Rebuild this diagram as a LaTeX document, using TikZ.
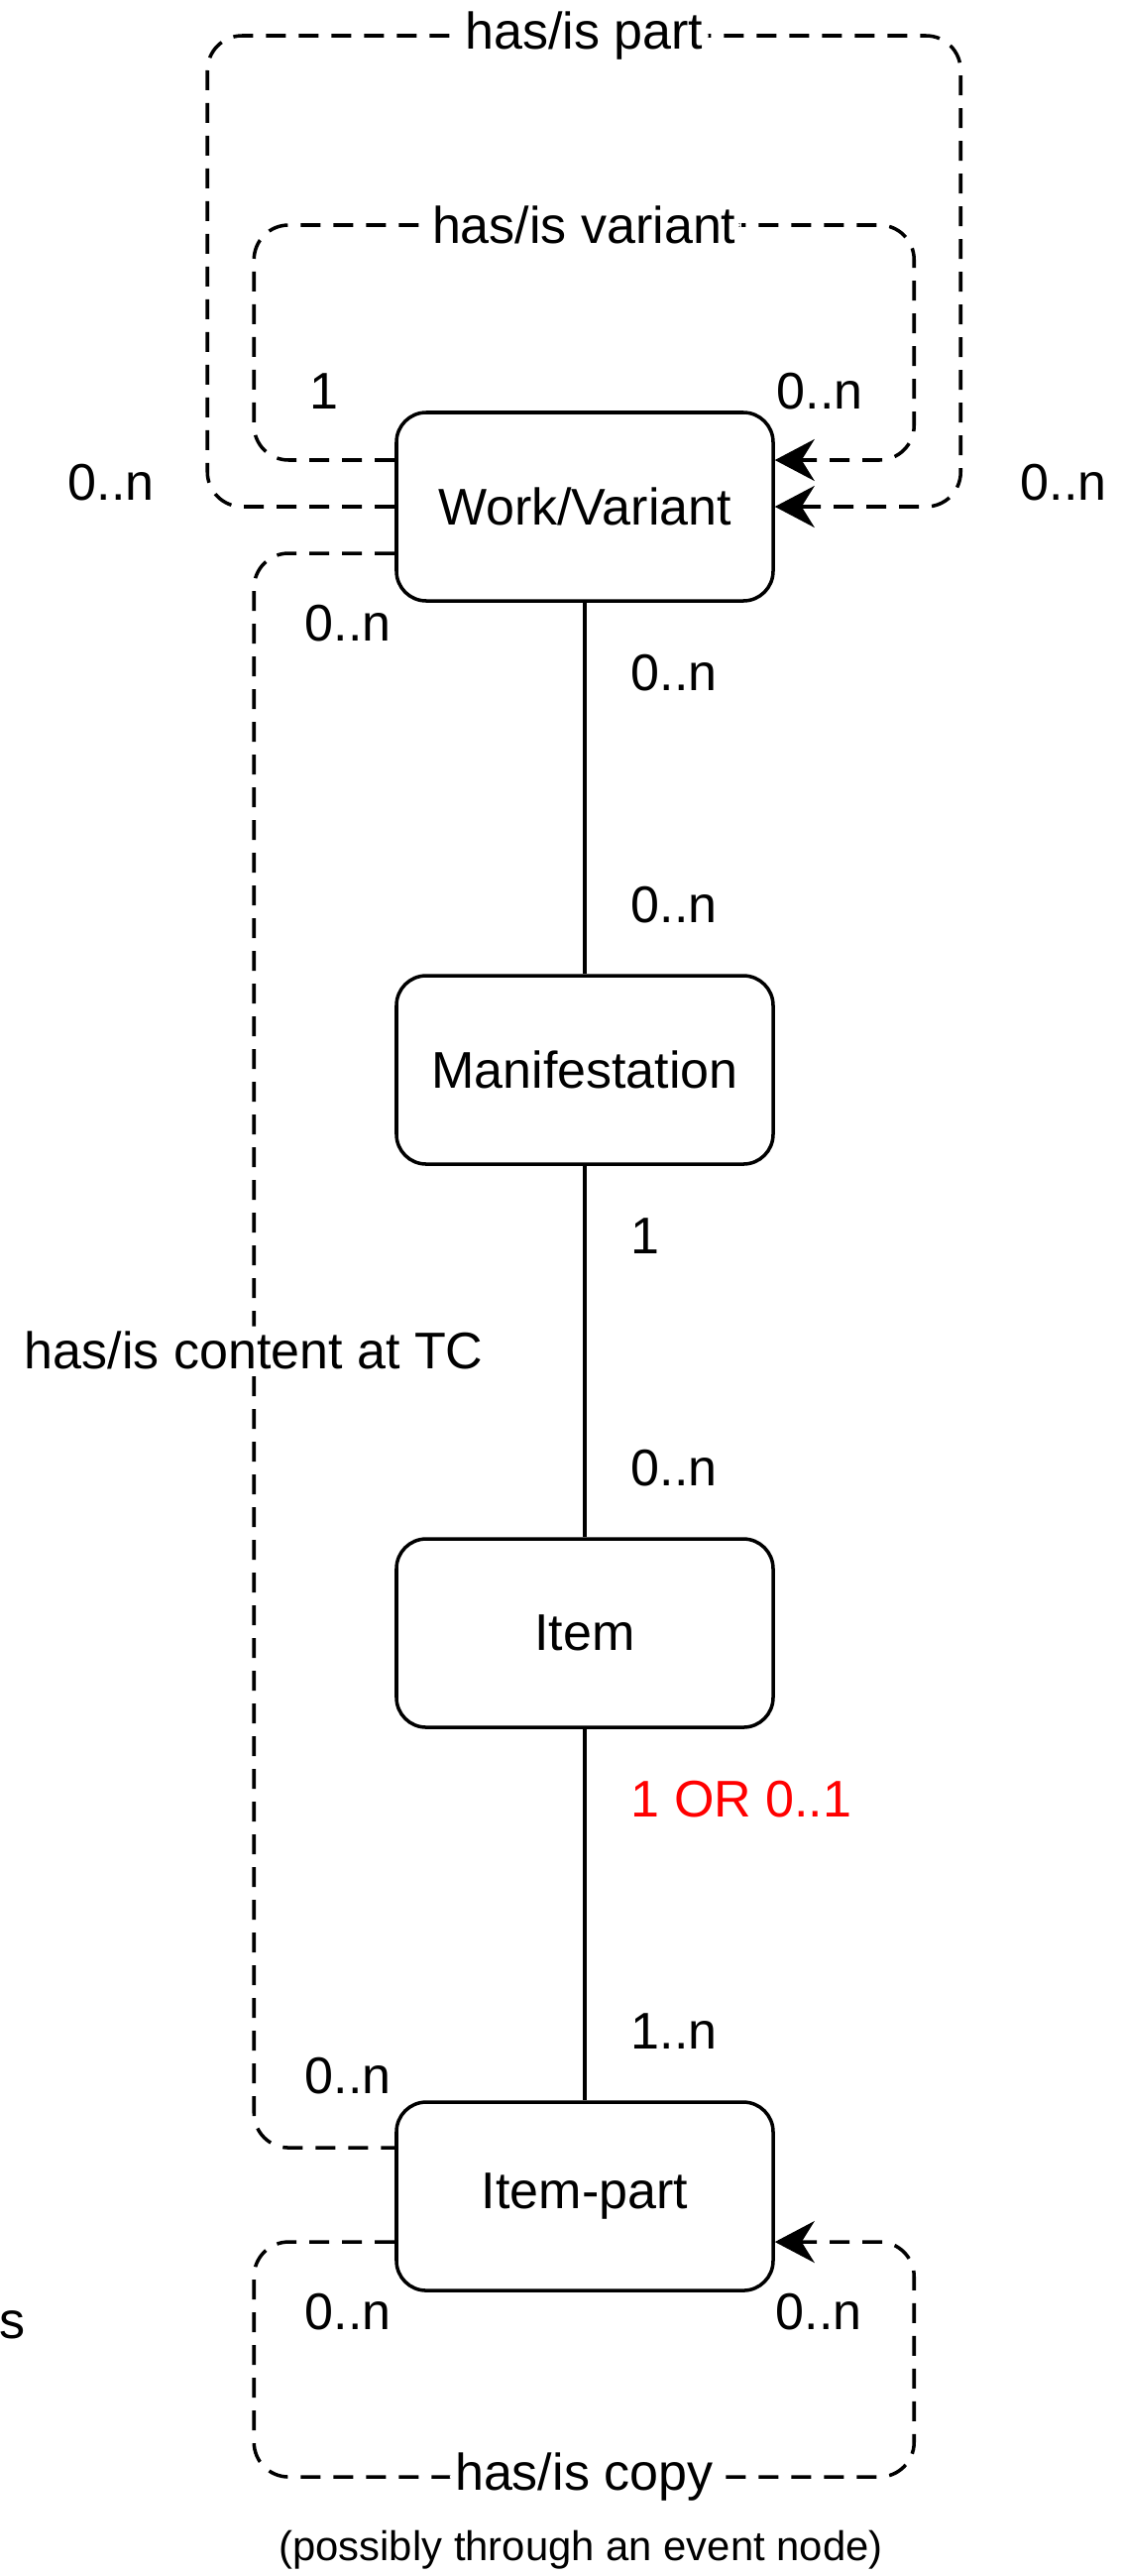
\documentclass[tikz,border=0pt]{standalone}
\usepackage{fontspec}
\setmainfont{Liberation Sans}
\usetikzlibrary{positioning,arrows.meta}

\begin{document}
\begin{tikzpicture}[
    entity/.style={draw, rounded corners=0.3cm, line width=1pt, minimum width=3.8cm, minimum height=1.9cm, font=\fontsize{14.8}{17}\selectfont},
    rel/.style={draw, line width=1pt},
    dashrel/.style={rel, dash pattern=on 0.2cm off 0.13cm, rounded corners=0.35cm},
    card/.style={inner sep=0pt, font=\fontsize{14.8}{17}\selectfont},
    rellbl/.style={card, fill=white, inner sep=1.5pt},
    tip/.style={-{Stealth[length=0.4cm, width=0.42cm, inset=0.13cm]}}
  ]
  \useasboundingbox (0,0) rectangle (11.32,-25.98);

  % draw entities
  \node[entity] (wv) at (5.9,-5.11) {Work/Variant};
  \node[entity, below=3.745cm of wv] (man) {Manifestation};
  \node[entity, below=3.745cm of man] (item) {Item};
  \node[entity, below=3.745cm of item] (ip) {Item-part};

  % draw main chain
  \draw[rel] (wv) -- node[card, pos=0.19, right=0.45cm] (wvmanA) {0..n}
                     node[card, pos=0.815, right=0.45cm] (wvmanB) {0..n} (man);
  \draw[rel] (man) -- node[card, pos=0.19, right=0.45cm] (manitemA) {1}
                      node[card, pos=0.815, right=0.45cm] (manitemB) {0..n} (item);
  \draw[rel] (item) -- node[card, pos=0.19, right=0.45cm, text=red] (itemipA) {1 OR 0..1}
                       node[card, pos=0.815, right=0.45cm] (itemipB) {1..n} (ip);

  % draw self loops on work/variant
  \draw[dashrel, tip] (wv.west) -- ++(-1.89,0) -- ++(0,4.75)
    -- node[rellbl] (partlbl) {has/is part} ++(7.6,0) -- ++(0,-4.75) -- (wv.east);
  \draw[dashrel, tip] ([yshift=0.47cm]wv.west) -- ++(-1.42,0) -- ++(0,2.37)
    -- node[rellbl] (varlbl) {has/is variant} ++(6.66,0) -- ++(0,-2.37) -- ([yshift=0.47cm]wv.east);

  % draw content link
  \draw[dashrel] ([yshift=-0.47cm]wv.west) -- ++(-1.42,0)
    |- node[rellbl, pos=0.25] (tclbl) {has/is content at TC} ([yshift=0.49cm]ip.west);

  % draw copy loop on item-part
  \draw[dashrel, tip] ([yshift=-0.46cm]ip.west) -- ++(-1.42,0) -- ++(0,-2.37)
    -- node[rellbl] (copylbl) {has/is copy} ++(6.66,0) -- ++(0,2.37) -- ([yshift=-0.46cm]ip.east);
  \node[inner sep=0pt, font=\fontsize{11.9}{14}\selectfont] (copynote) at (5.86,-25.72) {(possibly through an event node)};

  % draw cardinalities
  \node[card] (varone) at (3.27,-3.95) {1};
  \node[card] (varmany) at (8.27,-3.95) {0..n};
  \node[card] (partleft) at (1.12,-4.87) {0..n};
  \node[card] (partright) at (10.73,-4.87) {0..n};
  \node[card] (tctop) at (3.51,-6.29) {0..n};
  \node[card] (tcbottom) at (3.51,-20.94) {0..n};
  \node[card] (copyleft) at (3.51,-23.32) {0..n};
  \node[card] (copyright) at (8.26,-23.32) {0..n};
  \node[card] (stray) at (0.13,-23.45) {s};
\end{tikzpicture}
\end{document}
